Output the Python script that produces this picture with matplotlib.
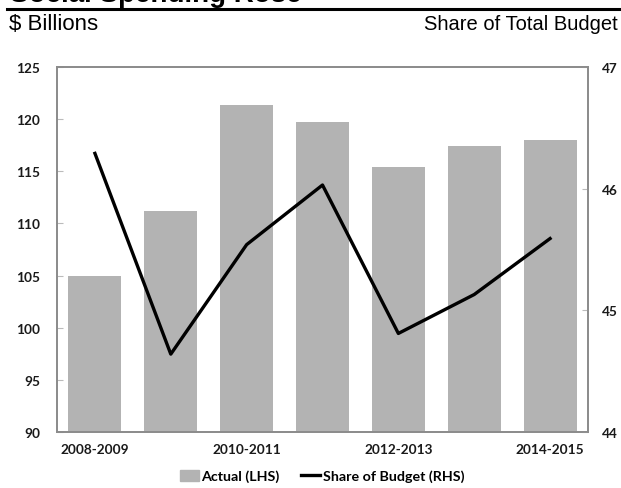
import matplotlib
matplotlib.use("Agg")
import matplotlib.pyplot as plt
import numpy as np
from matplotlib.lines import Line2D
from matplotlib.patches import Patch

categories = ["2008-2009", "2009-2010", "2010-2011", "2011-2012", "2012-2013", "2013-2014", "2014-2015"]
actual = [105.0, 111.2, 121.4, 119.7, 115.4, 117.4, 118.0]
share = [46.29, 44.64, 45.54, 46.03, 44.81, 45.13, 45.59]
shown_labels = ["2008-2009", "", "2010-2011", "", "2012-2013", "", "2014-2015"]
left_ticks = [90, 95, 100, 105, 110, 115, 120, 125]
right_ticks = [44, 45, 46, 47]

W, H = 621, 489
fig = plt.figure(figsize=(W/100, H/100), dpi=100)
ax = fig.add_axes([57/W, 1-433/H, (588-57)/W, (433-68)/H])
ax2 = ax.twinx()

x = np.arange(len(categories))
ax.bar(x, actual, width=0.7, color="#b3b3b3", zorder=2)
ax.set_ylim(90, 125)
ax.set_xlim(-0.5, len(categories)-0.5)
ax.set_yticks(left_ticks)
ax.set_xticks(x)
ax.set_xticklabels(shown_labels)

ax2.plot(x, share, color="black", lw=2.4, zorder=3)
ax2.set_ylim(44, 47)
ax2.set_yticks(right_ticks)

for a in (ax, ax2):
    for s in a.spines.values():
        s.set_color("#8c8c8c")
        s.set_linewidth(1.3)
for lab in ax.get_yticklabels() + ax.get_xticklabels() + ax2.get_yticklabels():
    lab.set_fontfamily("Lato")
    lab.set_fontweight("bold")
    lab.set_fontsize(9.8)
    lab.set_color("#1a1a1a")
ax.tick_params(axis="y", direction="in", length=4, color="#bbbbbb", pad=12)
ax2.tick_params(axis="y", direction="in", length=4, color="#bbbbbb", pad=10)
ax.tick_params(axis="x", length=0, pad=8)
ax2.set_zorder(ax.get_zorder()+1)
ax2.patch.set_visible(False)
ax.patch.set_visible(False)

# header
fig.text(10/W, 1-2/H, "Social Spending Rose", fontsize=20, fontweight="bold",
         family="Liberation Sans", va="baseline", ha="left")
fig.add_artist(Line2D([7/W, 1.0], [1-10/H, 1-10/H], color="black", lw=2.2))
fig.text(9/W, 1-25/H, "$ Billions", fontsize=16, family="Liberation Sans", va="center", ha="left")
fig.text(618/W, 1-25/H, "Share of Total Budget", fontsize=14.5, family="Liberation Sans", va="center", ha="right")

handles = [Patch(color="#b3b3b3"), Line2D([0], [0], color="black", lw=2.4)]
fig.legend(handles, ["Actual (LHS)", "Share of Budget (RHS)"], loc="center",
           bbox_to_anchor=(322/W, 1-477/H), ncol=2, frameon=False,
           prop=dict(family="Lato", weight="bold", size=10.3),
           handlelength=1.3, handletextpad=0.2, columnspacing=1.5, handleheight=0.8)

fig.savefig("out.png", dpi=100)
